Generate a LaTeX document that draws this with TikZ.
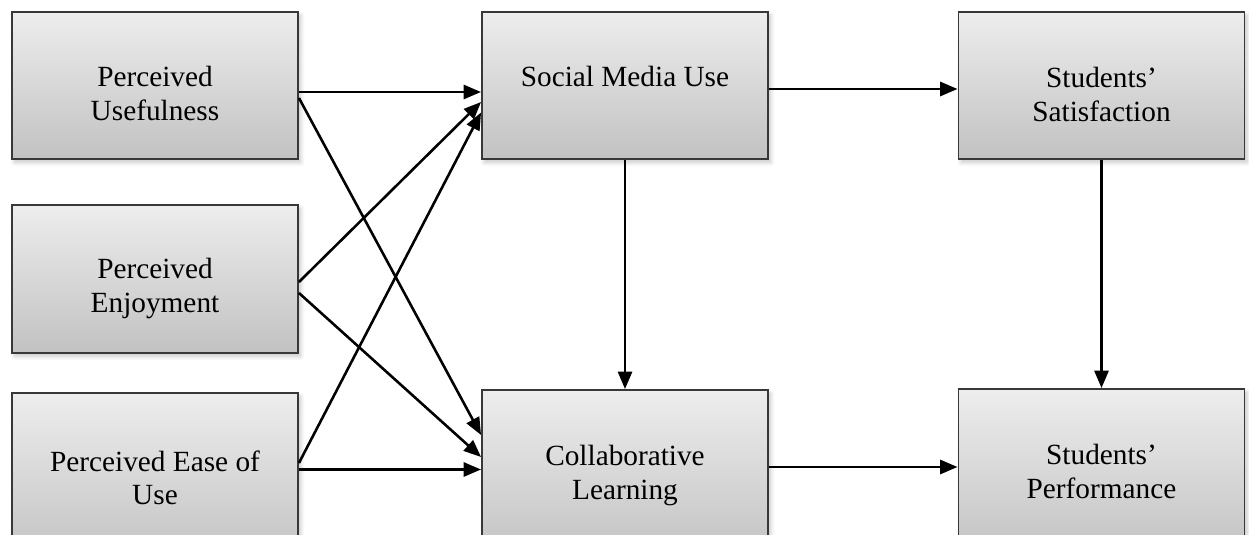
\documentclass[tikz,border=0pt]{standalone}
\usepackage{fontspec}
\setmainfont{Liberation Serif}
\usetikzlibrary{arrows.meta,calc,shadows.blur}

\tikzset{
  box/.style={draw=black!78, line width=.8pt, top color=gray!14, bottom color=gray!48,
    minimum width=42.9mm, blur shadow={shadow xshift=.4mm, shadow yshift=-.5mm,
    shadow opacity=22, shadow blur steps=6}},
  lbl/.style={anchor=north, inner sep=0pt, align=center, font=\fontsize{12.5}{14.2}\selectfont},
  arr/.style={line width=1.1pt, -{Triangle[length=2.6mm, width=2.1mm]}}
}

\begin{document}
\begin{tikzpicture}[x=.15mm, y=-.15mm]
  \useasboundingbox (0,0) rectangle (1249,535);
  \clip (0,0) rectangle (1249,535);

  % left column
  \node[box, minimum height=22.05mm] (pu) at (155,85.5) {};
  \node[box, minimum height=22.2mm] (pe) at (155,279) {};
  \node[box, minimum height=25.5mm] (peu) at (155,478) {};
  % middle column
  \node[box, minimum height=22.05mm] (smu) at (625,85.5) {};
  \node[box, minimum height=25.5mm] (cl) at (625,475) {};
  % right column
  \node[box, minimum height=22.05mm] (ss) at (1101.5,85.5) {};
  \node[box, minimum height=25.5mm] (sp) at (1101.5,474) {};

  \node[lbl] (tpu) at ($(pu.north)+(0,55)$) {Perceived\\Usefulness};
  \node[lbl] (tpe) at ($(pe.north)+(0,54)$) {Perceived\\Enjoyment};
  \node[lbl] (tpeu) at ($(peu.north)+(0,58)$) {Perceived Ease of\\Use};
  \node[lbl] (tsmu) at ($(smu.north)+(0,55)$) {Social Media Use};
  \node[lbl] (tcl) at ($(cl.north)+(0,56)$) {Collaborative\\Learning};
  \node[lbl] (tss) at ($(ss.north)+(0,56)$) {Students'\\Satisfaction};
  \node[lbl] (tsp) at ($(sp.north)+(0,56)$) {Students'\\Performance};

  % paths into social media use and collaborative learning
  \draw[arr] ($(pu.east)+(0,6.5)$) -- ($(smu.west)+(0,6.5)$);
  \draw[arr] ($(pu.east)+(0,12.5)$) -- ($(cl.west)+(0,-40)$);
  \draw[arr] ($(pe.east)+(0,3)$) -- ($(smu.west)+(0,16.5)$);
  \draw[arr] ($(pe.east)+(0,14)$) -- ($(cl.west)+(0,-18)$);
  \draw[arr] ($(peu.east)+(0,-15)$) -- ($(smu.west)+(0,27)$);
  \draw[arr] ($(peu.east)+(0,-8.5)$) -- ($(cl.west)+(0,-5.5)$);

  % outcomes
  \draw[arr] ($(smu.east)+(0,3.5)$) -- ($(ss.west)+(0,3.5)$);
  \draw[arr] (smu.south) -- (cl.north);
  \draw[arr] (ss.south) -- (sp.north);
  \draw[arr] ($(cl.east)+(0,-8)$) -- ($(sp.west)+(0,-7)$);
\end{tikzpicture}
\end{document}
